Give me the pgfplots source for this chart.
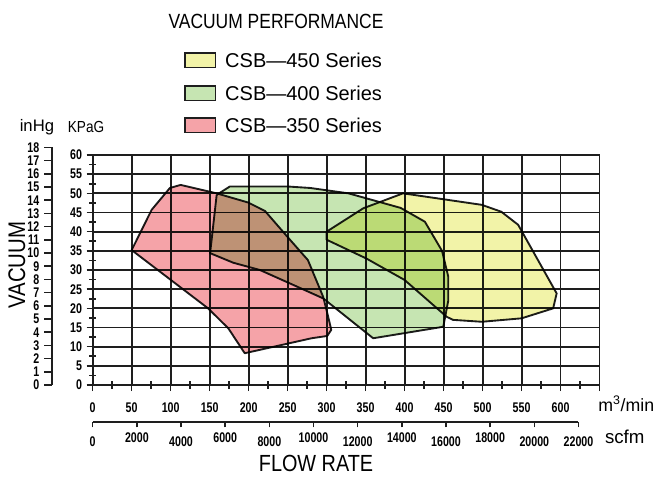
\documentclass[border=0pt]{standalone}
\usepackage{fontspec}
\setmainfont{Liberation Sans}
\newfontfamily\cad[FakeStretch=0.85]{Liberation Sans}
\newfontface\tickfont[FakeStretch=0.76]{Liberation Sans Bold}
\usepackage{pgfplots}
\pgfplotsset{compat=1.18}
\definecolor{redlight}{RGB}{245,163,168}
\definecolor{greenlight}{RGB}{198,229,178}
\definecolor{yellowlight}{RGB}{242,243,168}
\definecolor{edgecol}{RGB}{30,30,30}
\newcommand{\tf}{\tickfont\fontsize{10.5}{12}\selectfont}
\begin{document}
\begin{tikzpicture}
\useasboundingbox (-69.5pt,-69pt) rectangle (423.2pt,288.75pt);
% ---------------- inHg axis ----------------
\begin{axis}[
  at={(-30.5pt,0pt)}, anchor=south west,
  x=1pt, y=9.9pt, xmin=0, xmax=1, ymin=0, ymax=18,
  axis x line=none, axis y line*=left,
  axis line style={edgecol, line width=1.4pt},
  ytick={0,1,...,18},
  tick align=outside, major tick length=6pt,
  tick style={edgecol, line width=1.2pt},
  /pgf/number format/assume math mode=true,
  yticklabel style={font=\tf, anchor=east},
]
\addplot[draw=none] coordinates {(0,0)};
\end{axis}
% ---------------- scfm axis ----------------
\begin{axis}[
  at={(0pt,-27.75pt)}, anchor=south west,
  x=0.016559pt, y=1pt, xmin=0, xmax=22000, ymin=0, ymax=1,
  axis y line=none, axis x line*=bottom,
  axis line style={edgecol, line width=1.4pt},
  scaled x ticks=false,
  xtick={0,2000,...,22000},
  xticklabels={0,\raisebox{3pt}{2000},4000,\raisebox{3pt}{6000},8000,\raisebox{3pt}{10000},12000,\raisebox{3pt}{14000},16000,\raisebox{3pt}{18000},20000,22000},
  tick align=outside, major tick length=4pt,
  tick style={edgecol, line width=1.2pt},
  /pgf/number format/assume math mode=true,
  xticklabel style={font=\tf, anchor=base, yshift=-14pt},
]
\addplot[draw=none] coordinates {(0,0)};
\end{axis}
% ---------------- main axis ----------------
\begin{axis}[
  at={(0pt,0pt)}, anchor=south west,
  x=0.5848pt, y=2.875pt,
  xmin=0, xmax=650, ymin=0, ymax=60,
  axis x line*=bottom, axis y line*=left,
  axis line style={edgecol, line width=1.4pt},
  xtick={0,50,...,650}, ytick={0,5,...,60},
  xticklabels={0,50,100,150,200,250,300,350,400,450,500,550,600,{}},
  minor xtick={25,75,...,625}, minor ytick={2.5,7.5,...,57.5},
  tick align=center,
  major tick length=9pt, minor tick length=5.5pt,
  tick style={edgecol, line width=1.2pt},
  /pgf/number format/assume math mode=true,
  xticklabel style={font=\tf, anchor=base, yshift=-16pt},
  yticklabel style={font=\tf, anchor=east},
  clip=false,
]
% grid
\pgfplotsinvokeforeach{50,100,...,650}{\draw[edgecol, line width=1.4pt] (axis cs:#1,0) -- (axis cs:#1,60);}
\pgfplotsinvokeforeach{5,10,...,60}{\draw[edgecol, line width=1.4pt] (axis cs:0,#1) -- (axis cs:650,#1);}
% CSB-400 (green)
\addplot[fill=greenlight, blend mode=multiply, draw=edgecol, line width=1.4pt, line join=round] coordinates {
 (159,49.6) (176,51.8) (249,51.8) (279,51.4) (328,50) (395,46.2) (426,42.6) (448,35) (456,28.3) (456,22) (449.6,15.2) (359.7,12.2) (295.6,22.6) (253,26.5) (214.5,30.0) (180.3,31.9) (150.6,34.4) (159,49.6)};
% CSB-350 (red)
\addplot[fill=redlight, blend mode=multiply, draw=edgecol, line width=1.4pt, line join=round] coordinates {
 (50,35.2) (75.6,45.7) (99,51.4) (112.8,52.2) (159,50) (199.5,47.6) (221,45.4) (253,37.9) (276,32.6) (295.6,23) (302,17.8) (306,14.4) (300.8,12.8) (280.7,12.2) (195,8.3) (173.9,14.8) (148,20) (50,35.2)};
% CSB-450 (yellow)
\addplot[fill=yellowlight, blend mode=multiply, draw=edgecol, line width=1.4pt, line join=round] coordinates {
 (300,40) (300,37.9) (351,33) (400,27.4) (454,17.8) (462,17) (499,16.5) (550,17.4) (590.5,20) (595,23.9) (545.6,41.8) (524,45.2) (499,47) (398,50) (347,46.1) (300,40)};
\end{axis}
% ---------------- texts ----------------
\node[font=\cad\fontsize{15.4}{18}\selectfont] at (137.5pt,273pt) {VACUUM PERFORMANCE};
\draw[edgecol, line width=1.2pt, fill=yellowlight] (69.2pt,238pt) rectangle (92pt,249pt);
\draw[edgecol, line width=1.2pt, fill=greenlight] (69.2pt,213.25pt) rectangle (92pt,224.25pt);
\draw[edgecol, line width=1.2pt, fill=redlight] (69.2pt,189.25pt) rectangle (92pt,200.25pt);
\node[anchor=west, font=\fontsize{15}{18}\selectfont, inner sep=0pt] at (99.2pt,243.5pt) {CSB\textemdash450 Series};
\node[anchor=west, font=\fontsize{15}{18}\selectfont, inner sep=0pt] at (99.2pt,218.75pt) {CSB\textemdash400 Series};
\node[anchor=west, font=\fontsize{15}{18}\selectfont, inner sep=0pt] at (99.2pt,194.75pt) {CSB\textemdash350 Series};
\node[font=\fontsize{12.5}{14}\selectfont] at (-41.8pt,193.5pt) {inHg};
\node[font=\cad\fontsize{12}{14}\selectfont] at (-5pt,193.5pt) {KPaG};
\node[font=\cad\fontsize{18}{20}\selectfont, rotate=90] at (-56.8pt,90pt) {VACUUM};
\node[font=\cad\fontsize{17.5}{20}\selectfont] at (167.5pt,-58.5pt) {FLOW RATE};
\node[anchor=west, font=\fontsize{13.3}{16}\selectfont, inner sep=0pt] at (379pt,-14pt) {m\textsuperscript{3}/min};
\node[anchor=west, font=\fontsize{14}{16}\selectfont, inner sep=0pt] at (384pt,-39pt) {scfm};
\end{tikzpicture}
\end{document}
